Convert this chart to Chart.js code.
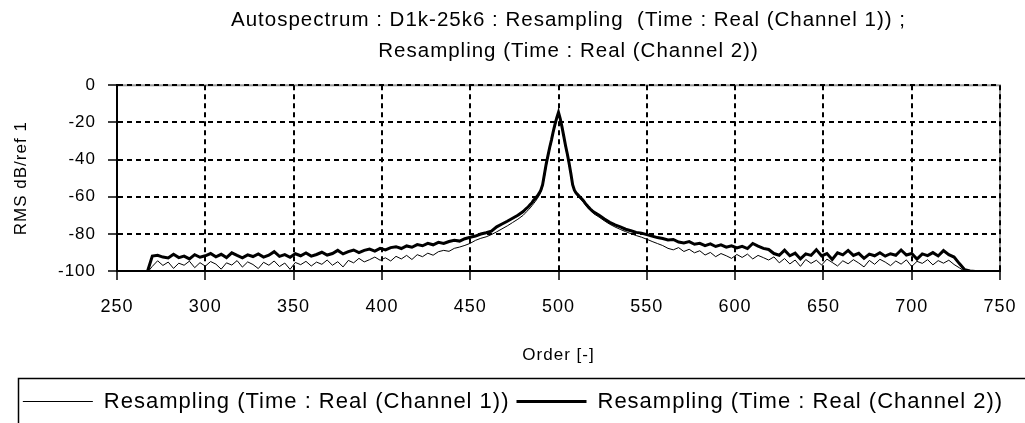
<!DOCTYPE html>
<html>
<head>
<meta charset="utf-8">
<script src="https://cdn.jsdelivr.net/npm/chart.js@4/dist/chart.umd.min.js"></script>
<style>
  html, body { margin: 0; padding: 0; background: #fff; }
  #wrap { width: 1025px; height: 423px; position: relative; }
</style>
</head>
<body>
<div id="wrap"><canvas id="c" width="1025" height="423"></canvas></div>
<script>
const titleLines = ["Autospectrum : D1k-25k6 : Resampling  (Time : Real (Channel 1)) ;", "Resampling (Time : Real (Channel 2))"];
const seriesNames = ["Resampling (Time : Real (Channel 1))", "Resampling (Time : Real (Channel 2))"];
const xTitle = "Order [-]";
const yTitle = "RMS dB/ref 1";
const xTicks = [250, 300, 350, 400, 450, 500, 550, 600, 650, 700, 750];
const yTicks = [0, -20, -40, -60, -80, -100];

const orders = [
 267,270,273,276,279,282,285,288,291,294,297,300,303,306,309,312,315,318,321,324,327,330,333,336,339,342,345,348,351,354,357,360,363,366,369,372,375,378,381,384,387,390,393,396,399,402,405,408,411,414,417,420,423,426,429,432,435,438,441,444,447,450,453,456,459,462,465,468,471,474,477,
 480,481,482,483,484,485,486,487,488,489,490,491,492,493,494,495,496,497,498,499,500,501,502,503,504,505,506,507,508,509,510,511,512,513,514,515,516,517,518,519,520,
 523,526,529,532,535,538,541,544,547,550,553,556,559,562,565,568,571,574,577,580,583,586,589,592,595,598,601,604,607,610,613,616,619,622,625,628,631,634,637,640,643,646,649,652,655,658,661,664,667,670,673,676,679,682,685,688,691,694,697,700,703,706,709,712,715,718,721,724,727,730,733,736,739,742,745,748,750
];

const channel1 = [
 -101,-97.5,-94.5,-97,-95.2,-98.6,-95.8,-96.9,-94.7,-98.2,-95.5,-97.4,-94.9,-96.3,-99,-95.6,-96.8,-94.4,-97.9,-95.1,-96.5,-98.7,-95.3,-96.9,-94.6,-97.6,-95.7,-99.1,-95.4,-96.6,-94.8,-97.3,-95.2,-96.4,-94.1,-96.9,-95,-97.8,-94.3,-95.6,-93.2,-95.1,-93.9,-92.5,-94.2,-92.9,-94.6,-92.1,-93.5,-91.6,-93.8,-91.2,-92.3,-90.4,-91.5,-89.6,-88.9,-89.4,-87.8,-87.1,-86.2,-85.1,-83.5,-82.4,-81.6,-80.4,-78.9,-77.3,-75.7,-73.9,-72.1,
 -70,-69,-68,-67,-66,-64.8,-63.6,-62.4,-61,-59.5,-57.5,-54.5,-49.5,-44,-39,-34.5,-30.5,-26,-22,-18.5,-15.5,-19,-23.5,-28.5,-33.5,-38,-43,-48.5,-54,-57,-58.6,-59.7,-60.8,-61.8,-62.9,-64.1,-65.3,-66.4,-67.4,-68.3,-69.2,
 -71,-73,-74.8,-76.3,-77.6,-78.8,-79.9,-80.9,-81.8,-82.9,-84.1,-85.2,-86.3,-87.8,-88.6,-87.4,-89.5,-88.3,-90.2,-89.1,-91.4,-90,-92.3,-90.6,-91.8,-93.2,-91.1,-92.7,-90.9,-93.5,-91.6,-92.8,-94.1,-92.4,-95.6,-93.3,-96.2,-94.1,-97.5,-93.8,-95.9,-94.2,-96.8,-93.6,-95.4,-97.3,-94.5,-96.1,-93.9,-95.7,-97.8,-94.3,-96.4,-93.7,-95.2,-97.1,-94.6,-96.3,-94,-97.6,-94.8,-95.9,-93.9,-96.7,-94.4,-95.8,-94.2,-96.5,-98.3,-100.2,-100.6,-100.6,-100.7,-100.7,-100.8,-100.8,-100.8
];

const channel2 = [
 -101,-92,-91.5,-92.5,-93,-91,-92.8,-92,-93.5,-91.2,-92.6,-91.8,-90.6,-92.4,-91,-92.8,-90.2,-91.6,-92.9,-91.3,-92.2,-90.8,-92.5,-91.5,-89.6,-92.1,-91.2,-92.6,-90.7,-91.8,-90.3,-92,-91.1,-89.9,-91.4,-90.6,-88.9,-90.8,-89.6,-88.7,-90.1,-88.9,-88.2,-89.3,-87.8,-88.6,-87.4,-86.9,-87.9,-86.5,-87.2,-85.8,-86.4,-85.1,-85.9,-84.6,-85.2,-84.1,-83.5,-83.9,-82.6,-81.8,-81.2,-80.1,-79.4,-78.6,-76.2,-74.7,-73.2,-71.6,-70,
 -68,-67,-66.2,-65.3,-64.2,-63.2,-61.8,-60.9,-59.6,-58.2,-56.5,-53.5,-48,-42.5,-38,-33.5,-29.5,-25,-21,-17.5,-14.5,-18,-22.5,-27.5,-32.5,-37,-42,-47.5,-53.5,-56.5,-58,-59,-60,-61,-62,-63.3,-64.5,-65.6,-66.6,-67.5,-68.3,
 -70,-72,-73.8,-75.2,-76.2,-77.5,-78.3,-79.2,-79.6,-80.4,-81.2,-82,-82.5,-83.3,-83,-84.4,-84.9,-84.2,-85.6,-85.1,-86.3,-85.4,-86.8,-85.9,-87.2,-86.4,-87.6,-86.7,-87.9,-85.2,-86.6,-87.8,-88.4,-90.6,-91.5,-88.8,-91.8,-90.4,-93.5,-90.8,-91.6,-88.5,-91.9,-90.6,-93.8,-90.2,-91.3,-88.9,-91.6,-90.5,-93.2,-90.9,-91.8,-90.2,-92,-90.7,-91.5,-88.7,-91.4,-90.6,-93.6,-90.8,-91.7,-90.1,-91.9,-89,-91.2,-92.5,-96,-99.3,-100,-100.3,-100.4,-100.6,-100.5,-100.7,-100.6
];

const FONT = "'Liberation Sans', Arial, sans-serif";

function toPoints(xs, ys) { return xs.map((x, i) => ({ x: x, y: ys[i] })); }

const spacingPlugin = {
  id: 'spacing',
  beforeUpdate(chart) { chart.ctx.letterSpacing = '1px'; },
  beforeLayout(chart) { chart.ctx.letterSpacing = '1px'; },
  beforeDraw(chart) { chart.ctx.letterSpacing = '1px'; }
};

const boxShift = {
  id: 'boxShift',
  afterLayout(chart) {
    const lg = chart.legend;
    if (lg) {
      const h = lg.bottom - lg.top;
      lg.left += 13; lg.right += 13;
      lg.top = 383.5; lg.bottom = 383.5 + h;
    }
    const tb = chart.titleBlock;
    if (tb) { tb.left += 10; tb.right += 10; }
  }
};

const framePlugin = {
  id: 'frame',
  beforeDraw(chart) {
    const { ctx, chartArea: a } = chart;
    ctx.save();
    ctx.fillStyle = '#fff';
    ctx.fillRect(0, 0, chart.width, chart.height);
    ctx.strokeStyle = '#9a9a9a';
    ctx.lineWidth = 2;
    ctx.strokeRect(a.left, a.top, a.right - a.left, a.bottom - a.top);
    ctx.restore();
  },
  afterDraw(chart) {
    const { ctx } = chart;
    ctx.save();
    ctx.strokeStyle = '#000';
    ctx.lineWidth = 1.5;
    ctx.strokeRect(18.5, 378.5, chart.width + 20, 80);
    ctx.restore();
  }
};

new Chart(document.getElementById('c'), {
  type: 'line',
  data: {
    datasets: [
      { label: seriesNames[0], data: toPoints(orders, channel1), borderColor: '#000', backgroundColor: '#000', borderWidth: 1, pointRadius: 0, tension: 0, fill: false },
      { label: seriesNames[1], data: toPoints(orders, channel2), borderColor: '#000', backgroundColor: '#000', borderWidth: 3, pointRadius: 0, tension: 0, fill: false }
    ]
  },
  options: {
    responsive: false,
    animation: false,
    devicePixelRatio: 1,
    layout: { padding: { left: 0, right: 25, top: 0, bottom: 13 } },
    plugins: {
      tooltip: { enabled: false },
      title: {
        display: true, text: titleLines, color: '#000', fullSize: false,
        font: { family: FONT, size: 20.5, weight: 'normal', lineHeight: 1.52 },
        padding: { top: 5, bottom: 18 }
      },
      legend: {
        display: true, position: 'bottom',
        labels: {
          color: '#000', font: { family: FONT, size: 22 },
          usePointStyle: true, pointStyle: 'line', pointStyleWidth: 70,
          padding: 7
        }
      }
    },
    scales: {
      x: {
        type: 'linear', min: 250, max: 750,
        afterFit(s) { s.height = 100; s.paddingLeft = 0; s.paddingRight = 0; },
        afterBuildTicks(s) { s.ticks = xTicks.map(v => ({ value: v })); },
        ticks: { color: '#000', font: { family: FONT, size: 18 }, padding: 16, maxRotation: 0 },
        grid: { color: '#000', lineWidth: 2, tickLength: 9, tickColor: '#000', tickWidth: 1.5, tickBorderDash: [] },
        border: { display: true, color: '#000', width: 2, dash: [5, 4] },
        title: { display: true, text: xTitle, color: '#000', font: { family: FONT, size: 17 }, padding: { top: 5, bottom: 5 } }
      },
      y: {
        type: 'linear', min: -100, max: 0,
        afterFit(s) { s.width = 117; s.paddingTop = 0; s.paddingBottom = 0; },
        afterBuildTicks(s) { s.ticks = yTicks.slice().reverse().map(v => ({ value: v })); },
        ticks: { color: '#000', font: { family: FONT, size: 17 }, padding: 12 },
        grid: { color: '#000', lineWidth: 2, tickLength: 9, tickColor: '#000', tickWidth: 1.5, tickBorderDash: [] },
        border: { display: true, color: '#000', width: 2, dash: [5, 4] },
        title: { display: true, text: yTitle, color: '#000', font: { family: FONT, size: 17 }, padding: { top: 11, bottom: 11 } }
      }
    }
  },
  plugins: [spacingPlugin, boxShift, framePlugin]
});
</script>
</body>
</html>
